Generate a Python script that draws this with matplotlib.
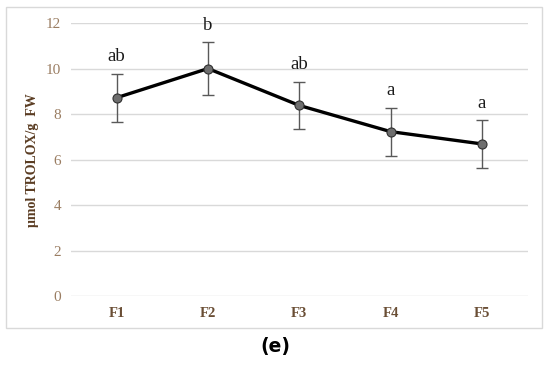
import matplotlib
matplotlib.use("Agg")
import matplotlib.pyplot as plt
from matplotlib.patches import Rectangle

categories = ["F1", "F2", "F3", "F4", "F5"]
values = [8.72, 10.0, 8.38, 7.23, 6.69]
errors = [1.06, 1.17, 1.04, 1.05, 1.04]
letters = ["ab", "b", "ab", "a", "a"]
yticks = [0, 2, 4, 6, 8, 10, 12]

fig = plt.figure(figsize=(5.5, 3.67), dpi=100)
ax = fig.add_axes([0.129, 0.1926, 0.8305, 0.7447])

# outer chart frame
fig.patches.append(Rectangle((0.011, 0.106), 0.9745, 0.875, transform=fig.transFigure,
                             fill=False, edgecolor="#d9d9d9", linewidth=1.0))

x = list(range(len(categories)))
ax.errorbar(x, values, yerr=errors, fmt="none", ecolor="#595959", elinewidth=1.0,
            capsize=4, capthick=1.0, zorder=2)
ax.plot(x, values, color="black", linewidth=2.4, zorder=3)
ax.plot(x, values, linestyle="none", marker="o", markersize=6.5,
        markerfacecolor="#6e6e6e", markeredgecolor="#303030", markeredgewidth=0.8, zorder=4)

for xi, v, e, lab in zip(x, values, errors, letters):
    ax.annotate(lab, (xi, v + e), xytext=(0, 6), textcoords="offset points",
                ha="center", va="bottom", fontsize=13.5, family="Liberation Serif",
                color="#1a1a1a")

ax.set_xlim(-0.5, len(categories) - 0.5)
ax.set_ylim(0, 12)
ax.set_yticks(yticks)
ax.set_xticks(x)
ax.set_xticklabels(categories, family="Liberation Serif", fontweight="bold",
                   fontsize=10.5, color="#6a4e35")
ax.set_yticklabels([str(t) for t in yticks], family="Liberation Serif",
                   fontsize=11, color="#9a7d62")
ax.tick_params(axis="both", length=0)
ax.tick_params(axis="y", pad=7)
ax.tick_params(axis="x", pad=8)
ax.grid(axis="y", color="#d9d9d9", linewidth=1.0)
ax.set_axisbelow(True)
for s in ax.spines.values():
    s.set_visible(False)

ax.set_ylabel("μmol TROLOX/g  FW", family="Liberation Serif", fontweight="bold",
              fontsize=10, color="#5a3c22", labelpad=5)

fig.text(0.5, 0.057, "(e)", ha="center", va="center", fontsize=13.5,
         fontweight="bold", family="DejaVu Sans", color="black")

fig.savefig("out.png", dpi=100)
